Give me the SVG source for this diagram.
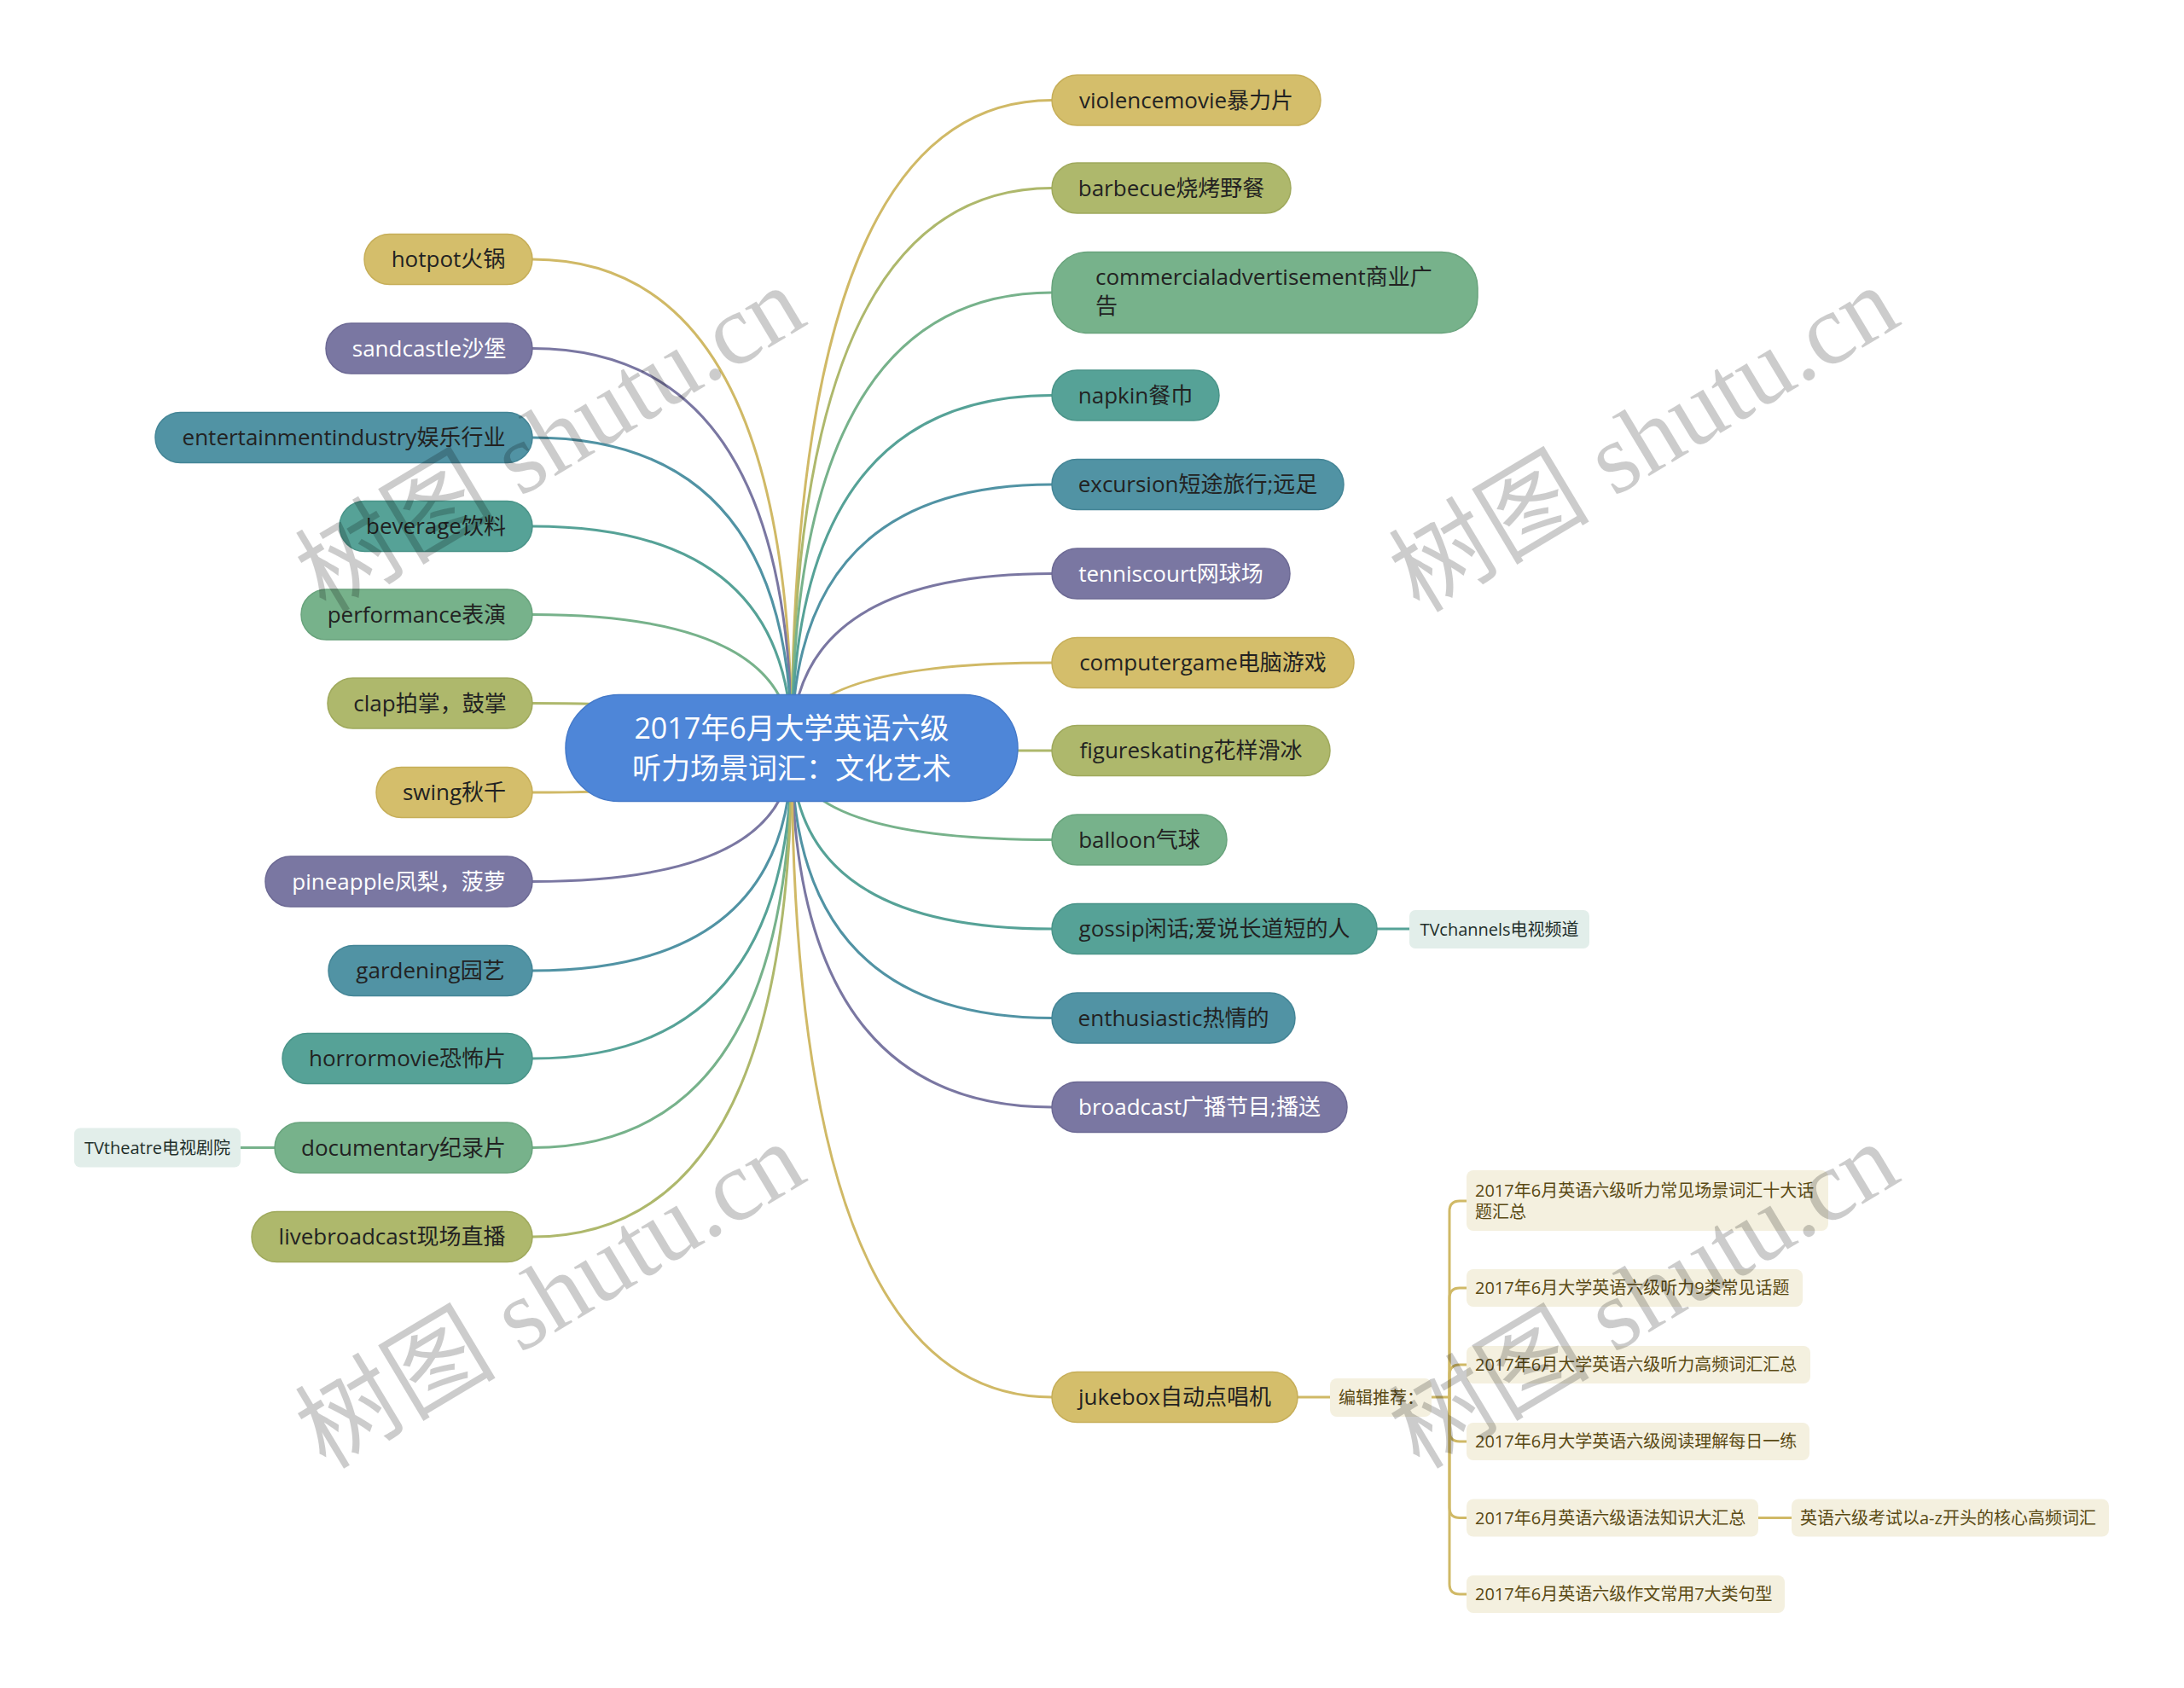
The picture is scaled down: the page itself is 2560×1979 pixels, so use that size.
<svg xmlns="http://www.w3.org/2000/svg" width="2560" height="1979" viewBox="0 0 2560 1979">
<style>
text{font-family:"Open Sans","Noto Sans CJK SC",sans-serif}
.n{font-size:26px;fill:#222;text-anchor:middle}
.ns{font-size:26px;fill:#222;text-anchor:start}
.w{fill:#fff}
.s{font-size:20px;fill:#5a4a14}
.t{font-size:20px;fill:#1f2f2a;text-anchor:middle}
.c{fill:none;stroke-width:3}
.gold{fill:#D4BE6B;stroke:#C6AE58;stroke-width:1.5}
.olive{fill:#AEB86C;stroke:#9FA95C;stroke-width:1.5}
.green{fill:#77B28B;stroke:#68A37C;stroke-width:1.5}
.tealg{fill:#56A297;stroke:#4A9489;stroke-width:1.5}
.tealb{fill:#5193A4;stroke:#448596;stroke-width:1.5}
.purple{fill:#7A77A2;stroke:#6C6994;stroke-width:1.5}
.lgold{stroke:#D0B966}.lolive{stroke:#AEB86C}.lgreen{stroke:#77B28B}.ltealg{stroke:#56A297}.ltealb{stroke:#5193A4}.lpurple{stroke:#7A77A2}
.sub{fill:#F4F0DF}
.tv{fill:#E2EEEA}
.wm{font-family:"Liberation Serif","Noto Sans CJK SC",serif;font-size:118px;fill:#000;fill-opacity:0.2;text-anchor:middle}
</style>
<rect width="2560" height="1979" fill="#fff"/>
<g id="connectors">
<path class="c lgold" d="M928,877 Q928,304 624,304"/>
<path class="c lpurple" d="M928,877 Q928,408.5 624,408.5"/>
<path class="c ltealb" d="M928,877 Q928,513 624,513"/>
<path class="c ltealg" d="M928,877 Q928,617 624,617"/>
<path class="c lgreen" d="M928,877 Q928,720.5 624,720.5"/>
<path class="c lolive" d="M928,877 Q928,824.5 624,824.5"/>
<path class="c lgold" d="M928,877 Q928,929 624,929"/>
<path class="c lpurple" d="M928,877 Q928,1033.5 624,1033.5"/>
<path class="c ltealb" d="M928,877 Q928,1138 624,1138"/>
<path class="c ltealg" d="M928,877 Q928,1241 624,1241"/>
<path class="c lgreen" d="M928,877 Q928,1345.5 624,1345.5"/>
<path class="c lolive" d="M928,877 Q928,1450 624,1450"/>
<path class="c lgreen" d="M323,1345.5 H282"/>
<path class="c lgold" d="M928,877 Q928,117.5 1233,117.5"/>
<path class="c lolive" d="M928,877 Q928,220.5 1233,220.5"/>
<path class="c lgreen" d="M928,877 Q928,343 1233,343"/>
<path class="c ltealg" d="M928,877 Q928,463.5 1233,463.5"/>
<path class="c ltealb" d="M928,877 Q928,568 1233,568"/>
<path class="c lpurple" d="M928,877 Q928,672.5 1233,672.5"/>
<path class="c lgold" d="M928,877 Q928,777 1233,777"/>
<path class="c lolive" d="M928,877 Q928,880 1233,880"/>
<path class="c lgreen" d="M928,877 Q928,984.5 1233,984.5"/>
<path class="c ltealg" d="M928,877 Q928,1089 1233,1089"/>
<path class="c ltealb" d="M928,877 Q928,1193.5 1233,1193.5"/>
<path class="c lpurple" d="M928,877 Q928,1298 1233,1298"/>
<path class="c lgold" d="M928,877 Q928,1638 1233,1638"/>
<path class="c ltealg" d="M1612,1089 H1652"/>
<path class="c lgold" d="M1520,1638 H1559"/>
<path class="c lgold" d="M1678,1638 H1699 V1420 Q1699,1408 1711,1408 H1719"/>
<path class="c lgold" d="M1699,1638 V1522 Q1699,1510 1711,1510 H1719"/>
<path class="c lgold" d="M1699,1638 V1612 Q1699,1600 1711,1600 H1719"/>
<path class="c lgold" d="M1699,1638 V1678 Q1699,1690 1711,1690 H1719"/>
<path class="c lgold" d="M1699,1638 V1767.5 Q1699,1779.5 1711,1779.5 H1719"/>
<path class="c lgold" d="M1699,1638 V1857 Q1699,1869 1711,1869 H1719"/>
<path class="c lgold" d="M2061,1779.5 H2100"/>
</g>
<g id="center"><rect x="663" y="814.5" width="530" height="125" rx="62.5" fill="#4E86D8" stroke="#4479C9" stroke-width="1.5"/>
<text x="928" y="866" font-size="34" fill="#fff" text-anchor="middle">2017年6月大学英语六级</text>
<text x="928" y="913" font-size="34" fill="#fff" text-anchor="middle">听力场景词汇：文化艺术</text></g>
<g id="n-hotpot"><rect class="gold" x="427" y="274.5" width="197" height="59" rx="29.5"/><text class="n" x="525.5" y="313">hotpot火锅</text></g>
<g id="n-sandcastle"><rect class="purple" x="382" y="379" width="242" height="59" rx="29.5"/><text class="n w" x="503" y="417.5">sandcastle沙堡</text></g>
<g id="n-entertainment"><rect class="tealb" x="182" y="483.5" width="442" height="59" rx="29.5"/><text class="n" x="403" y="522">entertainmentindustry娱乐行业</text></g>
<g id="n-beverage"><rect class="tealg" x="398" y="587.5" width="226" height="59" rx="29.5"/><text class="n" x="511" y="626">beverage饮料</text></g>
<g id="n-performance"><rect class="green" x="353" y="691" width="271" height="59" rx="29.5"/><text class="n" x="488.5" y="729.5">performance表演</text></g>
<g id="n-clap"><rect class="olive" x="384" y="795" width="240" height="59" rx="29.5"/><text class="n" x="504" y="833.5">clap拍掌，鼓掌</text></g>
<g id="n-swing"><rect class="gold" x="441" y="899.5" width="183" height="59" rx="29.5"/><text class="n" x="532.5" y="938">swing秋千</text></g>
<g id="n-pineapple"><rect class="purple" x="311" y="1004" width="313" height="59" rx="29.5"/><text class="n w" x="467.5" y="1042.5">pineapple凤梨，菠萝</text></g>
<g id="n-gardening"><rect class="tealb" x="385" y="1108.5" width="239" height="59" rx="29.5"/><text class="n" x="504.5" y="1147">gardening园艺</text></g>
<g id="n-horrormovie"><rect class="tealg" x="331" y="1211.5" width="293" height="59" rx="29.5"/><text class="n" x="477.5" y="1250">horrormovie恐怖片</text></g>
<g id="n-documentary"><rect class="green" x="322" y="1316" width="302" height="59" rx="29.5"/><text class="n" x="473" y="1354.5">documentary纪录片</text></g>
<g id="n-tvtheatre"><rect class="tv" x="87" y="1322.5" width="195" height="46" rx="7"/><text class="t" x="184.5" y="1352.5">TVtheatre电视剧院</text></g>
<g id="n-livebroadcast"><rect class="olive" x="295" y="1420.5" width="329" height="59" rx="29.5"/><text class="n" x="459.5" y="1459">livebroadcast现场直播</text></g>
<g id="n-violencemovie"><rect class="gold" x="1233" y="88" width="315" height="59" rx="29.5"/><text class="n" x="1390.5" y="126.5">violencemovie暴力片</text></g>
<g id="n-barbecue"><rect class="olive" x="1233" y="191" width="280" height="59" rx="29.5"/><text class="n" x="1373" y="229.5">barbecue烧烤野餐</text></g>
<g id="n-commercial"><rect class="green" x="1233" y="295.5" width="499" height="95" rx="42"/><text class="ns" x="1284" y="334">commercialadvertisement商业广</text><text class="ns" x="1284" y="368">告</text></g>
<g id="n-napkin"><rect class="tealg" x="1233" y="434" width="196" height="59" rx="29.5"/><text class="n" x="1331" y="472.5">napkin餐巾</text></g>
<g id="n-excursion"><rect class="tealb" x="1233" y="538.5" width="342" height="59" rx="29.5"/><text class="n" x="1404" y="577">excursion短途旅行;远足</text></g>
<g id="n-tenniscourt"><rect class="purple" x="1233" y="643" width="279" height="59" rx="29.5"/><text class="n w" x="1372.5" y="681.5">tenniscourt网球场</text></g>
<g id="n-computergame"><rect class="gold" x="1233" y="747.5" width="354" height="59" rx="29.5"/><text class="n" x="1410" y="786">computergame电脑游戏</text></g>
<g id="n-figureskating"><rect class="olive" x="1233" y="850.5" width="326" height="59" rx="29.5"/><text class="n" x="1396" y="889">figureskating花样滑冰</text></g>
<g id="n-balloon"><rect class="green" x="1233" y="955" width="205" height="59" rx="29.5"/><text class="n" x="1335.5" y="993.5">balloon气球</text></g>
<g id="n-gossip"><rect class="tealg" x="1233" y="1059.5" width="381" height="59" rx="29.5"/><text class="n" x="1423.5" y="1098">gossip闲话;爱说长道短的人</text></g>
<g id="n-tvchannels"><rect class="tv" x="1652" y="1067" width="211" height="45" rx="7"/><text class="t" x="1757.5" y="1096.5">TVchannels电视频道</text></g>
<g id="n-enthusiastic"><rect class="tealb" x="1233" y="1164" width="285" height="59" rx="29.5"/><text class="n" x="1375.5" y="1202.5">enthusiastic热情的</text></g>
<g id="n-broadcast"><rect class="purple" x="1233" y="1268.5" width="346" height="59" rx="29.5"/><text class="n w" x="1406" y="1307">broadcast广播节目;播送</text></g>
<g id="n-jukebox"><rect class="gold" x="1233" y="1608.5" width="288" height="59" rx="29.5"/><text class="n" x="1377" y="1647">jukebox自动点唱机</text></g>
<g id="n-editor"><rect class="sub" x="1559" y="1616" width="119" height="45" rx="8"/><text class="s" x="1569" y="1645.5">编辑推荐：</text></g>
<g id="n-sub1"><rect class="sub" x="1719" y="1372" width="424" height="71" rx="8"/><text class="s" x="1729" y="1403">2017年6月英语六级听力常见场景词汇十大话</text><text class="s" x="1729" y="1428">题汇总</text></g>
<g id="n-sub2"><rect class="sub" x="1719" y="1488" width="394" height="44" rx="8"/><text class="s" x="1729" y="1517">2017年6月大学英语六级听力9类常见话题</text></g>
<g id="n-sub3"><rect class="sub" x="1719" y="1578" width="403" height="44" rx="8"/><text class="s" x="1729" y="1607">2017年6月大学英语六级听力高频词汇汇总</text></g>
<g id="n-sub4"><rect class="sub" x="1719" y="1668" width="402" height="44" rx="8"/><text class="s" x="1729" y="1697">2017年6月大学英语六级阅读理解每日一练</text></g>
<g id="n-sub5"><rect class="sub" x="1719" y="1757.5" width="342" height="44" rx="8"/><text class="s" x="1729" y="1786.5">2017年6月英语六级语法知识大汇总</text></g>
<g id="n-sub5a"><rect class="sub" x="2100" y="1757.5" width="372" height="44" rx="8"/><text class="s" x="2110" y="1786.5">英语六级考试以a-z开头的核心高频词汇</text></g>
<g id="n-sub6"><rect class="sub" x="1719" y="1847" width="373" height="44" rx="8"/><text class="s" x="1729" y="1876">2017年6月英语六级作文常用7大类句型</text></g>
<g id="watermarks">
<text class="wm" transform="translate(645,515) rotate(-31)" y="40">树图 shutu.cn</text>
<text class="wm" transform="translate(645,1519) rotate(-31)" y="40">树图 shutu.cn</text>
<text class="wm" transform="translate(1927,515) rotate(-31)" y="40">树图 shutu.cn</text>
<text class="wm" transform="translate(1927,1519) rotate(-31)" y="40">树图 shutu.cn</text>
</g>
</svg>
